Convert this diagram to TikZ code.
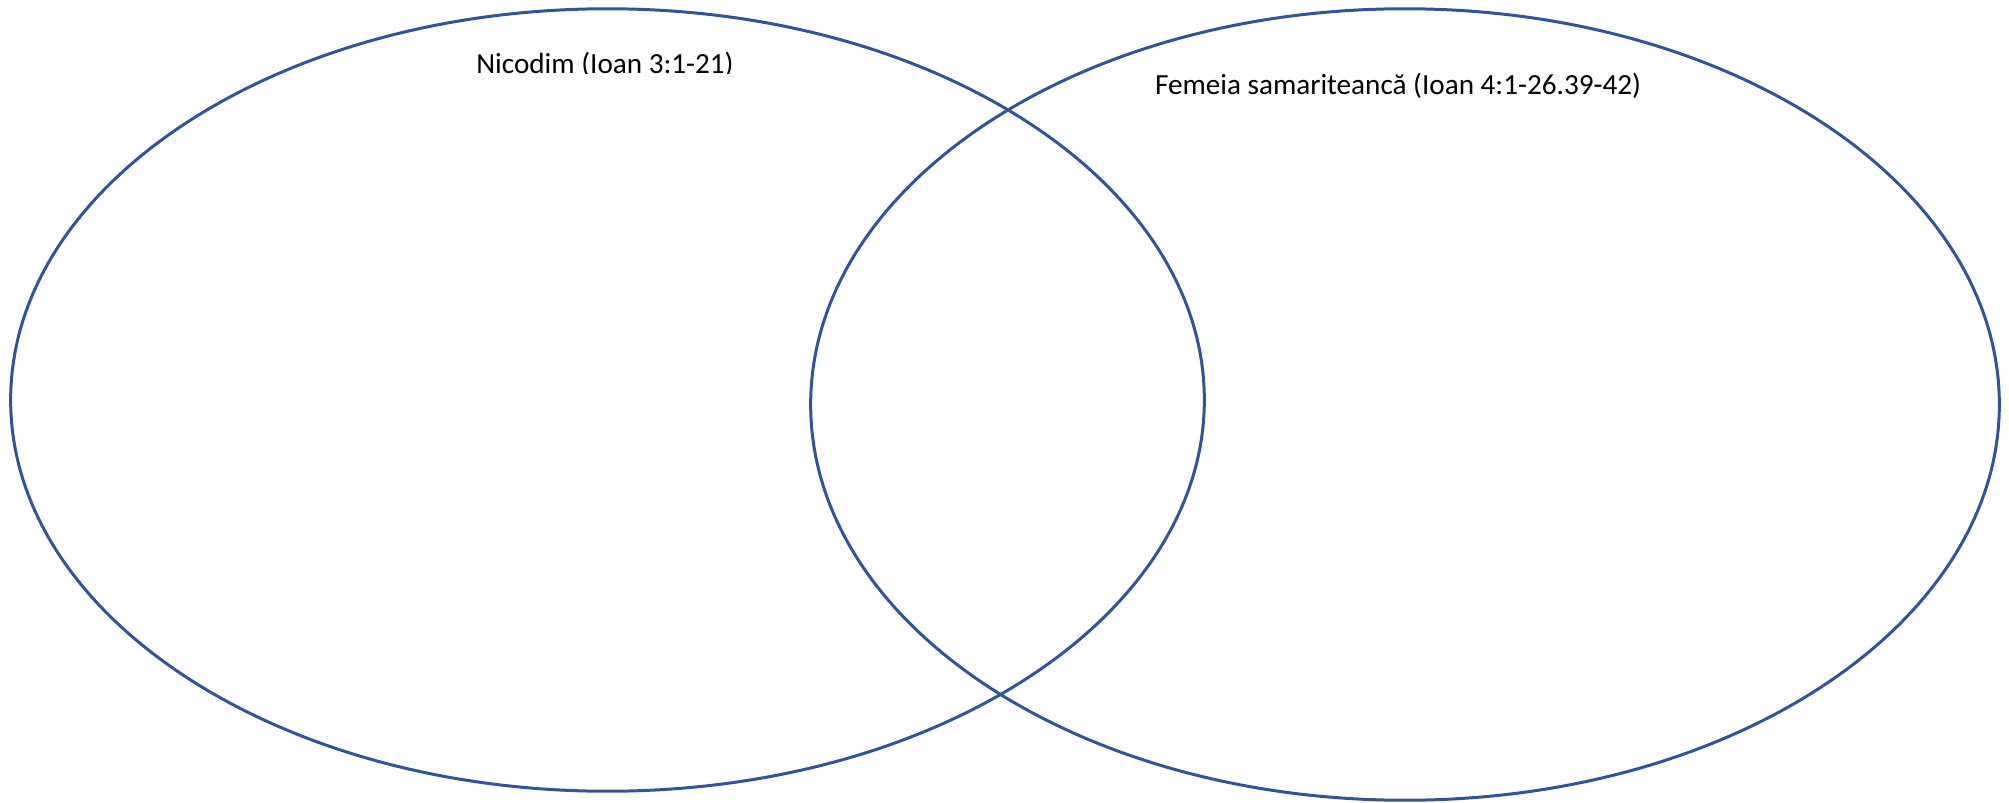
\documentclass[tikz,border=0pt]{standalone}
\usepackage{fontspec}
\setmainfont{Carlito}
\usepackage{tikz}
\usetikzlibrary{shapes.geometric,positioning,calc}
\definecolor{setblue}{HTML}{2F5597}
\tikzset{SET/.style={ellipse,draw=setblue,line width=0.03cm,inner sep=0pt,minimum width=#1}}
\tikzset{LABEL/.style={inner sep=0pt,anchor=base,font=\fontsize{8.3}{10}\selectfont}}

\begin{document}
\begin{tikzpicture}[x=0.01cm,y=-0.01cm]
\useasboundingbox (0,0) rectangle (2009,803);

\node[SET=11.93cm, minimum height=7.82cm] (n_nicodim) at (607.5,400) {};
\node[SET=11.88cm, minimum height=7.91cm] (n_samariteanca) at (1405,404.5) {};

% the first label is cut off at its baseline
\begin{scope}
\clip (0,0) rectangle (2009,73);
\node[LABEL] (n_nicodim_label) at (605,73) {Nicodim (Ioan 3:1-21)};
\end{scope}
\node[LABEL] (n_samariteanca_label) at (1398,94) {Femeia samariteancă (Ioan 4:1-26.39-42)};

\end{tikzpicture}
\end{document}
